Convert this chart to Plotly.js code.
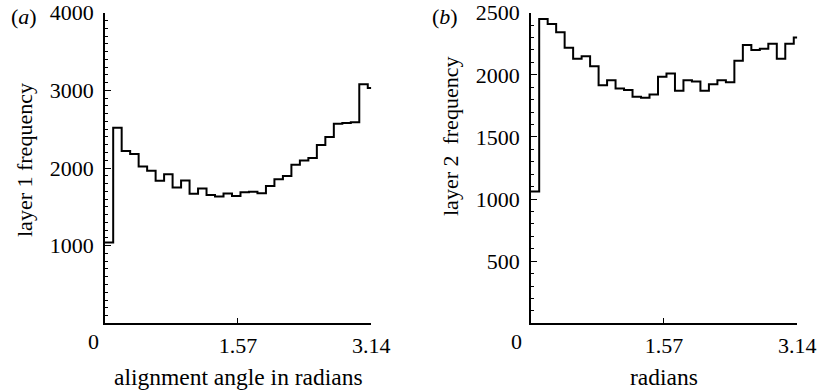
<!DOCTYPE html>
<html>
<head>
<meta charset="utf-8">
<script src="https://cdn.plot.ly/plotly-3.0.1.min.js"></script>
<style>
  html, body { margin: 0; padding: 0; background: #fff; }
  #chart { width: 821px; height: 391px; }
</style>
</head>
<body>
<div id="chart"></div>
<script>
// Left edges of the angle bins (radians); the last bin closes at pi.
const binEdges = [0.0, 0.1, 0.2, 0.3, 0.4, 0.5, 0.6, 0.7, 0.8, 0.9,
                  1.0, 1.1, 1.2, 1.3, 1.4, 1.5, 1.6, 1.7, 1.8, 1.9,
                  2.0, 2.1, 2.2, 2.3, 2.4, 2.5, 2.6, 2.7, 2.8, 2.9,
                  3.0, 3.1];
const lastEdge = Math.PI;

// (a) layer 1 counts per bin
const layer1Counts = [1040, 2520, 2220, 2180, 2020, 1965, 1835, 1920, 1750, 1840,
                      1668, 1736, 1652, 1632, 1672, 1640, 1688, 1695, 1674, 1768,
                      1854, 1897, 2042, 2098, 2128, 2296, 2400, 2570, 2580, 2590,
                      3080, 3030];

// (b) layer 2 counts per bin
const layer2Counts = [1060, 2450, 2410, 2342, 2218, 2130, 2150, 2070, 1917, 1957,
                      1890, 1877, 1823, 1815, 1842, 1984, 2011, 1871, 1957, 1947,
                      1871, 1925, 1957, 1941, 2113, 2240, 2200, 2210, 2250, 2130,
                      2250, 2300];

const xTickVals = [1.57, 3.14];
const xTickText = ['1.57', '3.14'];
const y1TickVals = [1000, 2000, 3000, 4000];
const y2TickVals = [500, 1000, 1500, 2000, 2500];

const FONT = '"Liberation Serif", "Times New Roman", Times, serif';

// Step outline: each bin's count held across its width.
function stepTrace(counts, xa, ya) {
  const xs = binEdges.concat([lastEdge]);
  const ys = counts.concat([counts[counts.length - 1]]);
  return {
    x: xs, y: ys, xaxis: xa, yaxis: ya,
    type: 'scatter', mode: 'lines',
    line: { shape: 'hv', color: '#000', width: 2 },
    hoverinfo: 'skip', showlegend: false
  };
}

function xAxis(domain) {
  return {
    domain: domain, range: [0, Math.PI],
    showline: true, linecolor: '#000', linewidth: 1.5,
    zeroline: false, showgrid: false,
    ticks: 'inside', ticklen: 5, tickwidth: 1, tickcolor: '#000',
    ticklabelstandoff: 2,
    tickmode: 'array', tickvals: xTickVals, ticktext: xTickText,
    tickfont: { family: FONT, size: 22, color: '#000' },
    fixedrange: true
  };
}

function yAxis(domain, range, vals, anchor) {
  return {
    domain: domain, range: range, anchor: anchor,
    showline: true, linecolor: '#000', linewidth: 1.5,
    zeroline: false, showgrid: false,
    ticks: 'inside', ticklen: 6, tickwidth: 1, tickcolor: '#000',
    ticklabelstandoff: 5,
    tickmode: 'array', tickvals: vals,
    tickfont: { family: FONT, size: 22, color: '#000' },
    minor: { dtick: 100, ticks: 'inside', ticklen: 3, tickwidth: 1, tickcolor: '#000', showgrid: false },
    fixedrange: true
  };
}

const yDom = [0.1731, 0.9675];

const data = [
  stepTrace(layer1Counts, 'x', 'y'),
  stepTrace(layer2Counts, 'x2', 'y2')
];

function label(text, x, y, opts) {
  return Object.assign({
    text: text, x: x, y: y, xref: 'paper', yref: 'paper',
    xanchor: 'center', yanchor: 'middle', showarrow: false,
    font: { family: FONT, size: 22, color: '#000' }
  }, opts || {});
}

const layout = {
  width: 821, height: 391,
  margin: { l: 0, r: 0, t: 0, b: 0 },
  paper_bgcolor: '#fff', plot_bgcolor: '#fff',
  font: { family: FONT, color: '#000' },
  xaxis: Object.assign(xAxis([104.7 / 821, 371.3 / 821]), { anchor: 'y' }),
  yaxis: yAxis(yDom, [0, 4000], y1TickVals, 'x'),
  xaxis2: Object.assign(xAxis([530.7 / 821, 797.3 / 821]), { anchor: 'y2' }),
  yaxis2: yAxis(yDom, [0, 2500], y2TickVals, 'x2'),
  annotations: [
    label('(<i>a</i>)', 24 / 821, 1 - 17 / 391),
    label('(<i>b</i>)', 445 / 821, 1 - 17 / 391),
    label('0', 93 / 821, 1 - 341 / 391),
    label('0', 516 / 821, 1 - 341 / 391),
    label('alignment angle in radians', 238 / 821, 1 - 377 / 391, { font: { family: FONT, size: 23.5, color: '#000' } }),
    label('radians', 664 / 821, 1 - 377 / 391, { font: { family: FONT, size: 23.5, color: '#000' } }),
    label('layer 1 frequency', 25 / 821, 1 - 160 / 391, { textangle: -90, font: { family: FONT, size: 22, color: '#000' } }),
    label('layer 2\u00a0\u00a0frequency', 451 / 821, 1 - 137 / 391, { textangle: -90, font: { family: FONT, size: 22, color: '#000' } })
  ]
};

Plotly.newPlot('chart', data, layout, { staticPlot: true, displayModeBar: false });
</script>
</body>
</html>
